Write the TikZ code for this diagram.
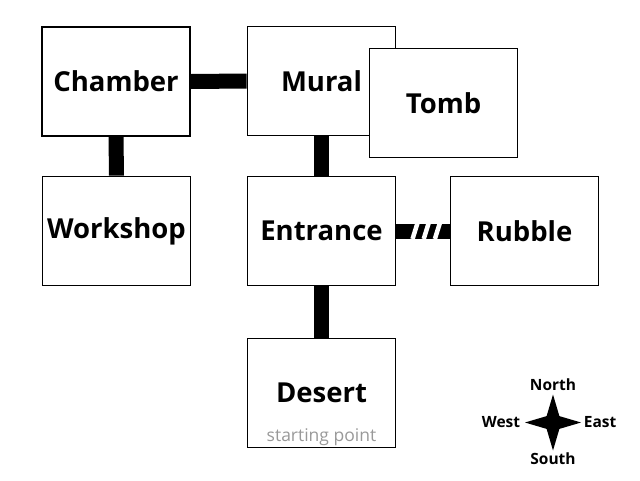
\documentclass[tikz,border=0pt]{standalone}
\usepackage{fontspec}
\setmainfont{Open Sans}
\usetikzlibrary{positioning,calc,shapes.geometric}

\begin{document}
\begin{tikzpicture}[x=1pt,y=1pt]
	\tikzstyle{room}=[draw=black, line width=1.8pt, fill=white, minimum width=148pt, minimum height=109pt, inner sep=0pt, font=\bfseries\fontsize{27.5}{30}\selectfont]
	\tikzstyle{road}=[black, line width=15pt]
	\tikzstyle{dir}=[inner sep=1pt, font=\bfseries\fontsize{15.5}{18}\selectfont]
	\useasboundingbox (0,0) rectangle (640,-480);
	\node [room] (chamber) at (116,-81.5) {Chamber};
	\node [room] (mural) at (321.5,-81) {Mural};
	\node [room] (tomb) at (443.5,-103) {Tomb};
	\node [room] (workshop) at (116.5,-231) {Workshop};
	\node [room] (entrance) at (321.5,-231) {Entrance};
	\node [room] (rubble) at (524.5,-231) {Rubble};
	\node [room] (desert) at (321.5,-393) {Desert};
	\node [above=3pt of desert.south, inner sep=0pt, text=black!40, font=\fontsize{17.5}{20}\selectfont] (start) {starting point};
	\draw [road] (chamber.east) -- (mural.west);
	\draw [road] (chamber.south) -- (workshop.north);
	\draw [road] (mural.south) -- (entrance.north);
	\draw [road] (entrance.south) -- (desert.north);
	\draw [road] (entrance.east) -- (rubble.west);
	\foreach \t in {0.35,0.56,0.77}
		\draw [white, line width=4.5pt] ($(entrance.east)!\t!(rubble.west)+(-2.5,-8)$) -- ++(5,16);
	\node [star, star points=4, star point ratio=3.1, minimum size=56pt, inner sep=0pt, fill=black] (compass) at (553,-422.5) {};
	\node [dir, above=2pt of compass] (north) {North};
	\node [dir, below=0pt of compass] (south) {South};
	\node [dir, left=3pt of compass] (west) {West};
	\node [dir, right=1pt of compass] (east) {East};
\end{tikzpicture}
\end{document}
